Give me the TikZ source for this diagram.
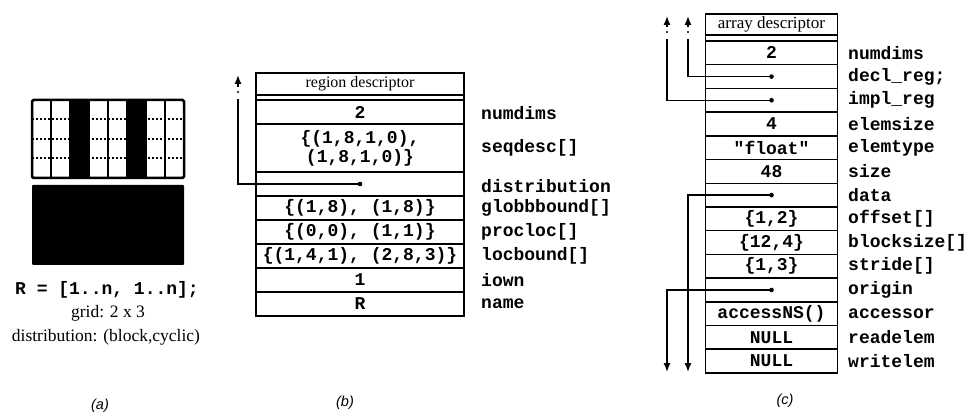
\documentclass[tikz,border=0pt]{standalone}
\usepackage{fontspec}
\setmainfont{Liberation Serif}
\newfontfamily\monofam{Liberation Mono}
\newfontfamily\capfam{Liberation Sans}
\usetikzlibrary{arrows.meta}
\newcommand\mytt{\monofam\bfseries\fontsize{18}{19}\selectfont}
\newcommand\myserif{\rmfamily\fontsize{16}{18}\selectfont}
\newcommand\myserifa{\rmfamily\fontsize{17.5}{19}\selectfont}
\begin{document}
\begin{tikzpicture}[x=1pt,y=-1pt,
 cellb/.style={draw, line width=1.5pt, minimum width=208pt, minimum height=24pt, inner sep=0pt, outer sep=0pt, font=\mytt, align=center},
 cellc/.style={cellb, minimum width=131pt, minimum height=23.71pt},
 hdr/.style={cellb, font=\myserif},
 lab/.style={anchor=west, inner sep=0pt, font=\mytt},
 ptr/.style={line width=1.4pt},
 tip/.style={-{Latex[length=9pt,width=7pt]}},
 capt/.style={font=\capfam\itshape\fontsize{14.5}{17}\selectfont}]
\useasboundingbox (0,0) rectangle (978,414);

% ---------- (a) ----------
\fill (70,100) rectangle (89,178);
\fill (127,100) rectangle (146,178);
\foreach \y in {119.5,139,158.5} \draw[line width=2pt, dotted] (32,\y) -- (184,\y);
\foreach \x in {51,70,89,108,127,146,165} \draw[line width=2.5pt] (\x,100) -- (\x,178);
\draw[line width=2.5pt, rounded corners=1.5pt] (32,100) rectangle (184,178);
\fill[rounded corners=1pt] (32,185) rectangle (184,265);
\node[font=\mytt] (rdecl) at (107,290) {R = [1..n, 1..n];};
\node[font=\myserifa] (gridtxt) at (108,313) {grid: 2 x 3};
\node[font=\myserifa] (disttxt) at (106,337) {distribution: (block,cyclic)};
\node[capt] (capa) at (100,406) {(a)};

% ---------- (b) ----------
\node[hdr, minimum height=22pt] (bh) at (360,84) {region descriptor};
\node[cellb] (b1) at (360,112) {2};
\node[cellb, minimum height=48pt] (b2) at (360,148) {\{(1,8,1,0),\\(1,8,1,0)\}};
\node[cellb] (b3) at (360,184) {};
\node[cellb] (b4) at (360,208) {\{(1,8), (1,8)\}};
\node[cellb] (b5) at (360,232) {\{(0,0), (1,1)\}};
\node[cellb] (b6) at (360,256) {\{(1,4,1), (2,8,3)\}};
\node[cellb] (b7) at (360,280) {1};
\node[cellb] (b8) at (360,304) {R};
\draw[line width=1.5pt] (bh.north west) rectangle (b8.south east);

\node[lab] (lb1) at (481,113) {numdims};
\node[lab] (lb2) at (481,148) {seqdesc[]};
\node[lab] (lb3) at (481,186) {distribution};
\node[lab] (lb4) at (481,208) {globbbound[]};
\node[lab] (lb5) at (481,232) {procloc[]};
\node[lab] (lb6) at (481,256) {locbound[]};
\node[lab] (lb7) at (481,280) {iown};
\node[lab] (lb8) at (481,304) {name};

\coordinate (bup) at (238,99);
\coordinate (bdot) at (238,92);
\coordinate (barS) at (238,87);
\coordinate (barE) at (238,75);
\draw[ptr] (b3.center) -| (bup);
\fill (b3.center) circle (2.3pt);
\fill (bdot) circle (1.2pt);
\draw[ptr, tip] (barS) -- (barE);
\node[capt] (capb) at (345,403) {(b)};

% ---------- (c) ----------
\node[hdr, minimum width=132pt, minimum height=21pt, font=\rmfamily\fontsize{17}{18}\selectfont] (ch) at (771.5,24.5) {array descriptor};
\foreach \i/\t in {1/2, 2/, 3/, 4/4, 5/"float", 6/48, 7/, 8/{\{1,2\}}, 9/{\{12,4\}}, 10/{\{1,3\}}, 11/, 12/accessNS(), 13/NULL, 14/NULL}
  \node[cellc, minimum width=132pt] (c\i) at (771.5, {41+(\i-0.5)*23.71}) {\t};
\draw[line width=1.5pt] (ch.north west) rectangle (c14.south east);

\foreach \i/\t in {1/numdims, 2/decl\_reg;, 3/impl\_reg, 4/elemsize, 5/elemtype, 6/size, 7/data, 8/offset[], 9/blocksize[], 10/stride[], 11/origin, 12/accessor, 13/readelem, 14/writelem}
  \node[lab] (lc\i) at (848, {41+(\i-0.5)*23.71}) {\t};

% up pointers
\coordinate (dA) at (688,39);
\coordinate (dAd) at (688,32);
\coordinate (dAs) at (688,27);
\coordinate (dAe) at (688,16);
\coordinate (iA) at (667,39);
\coordinate (iAd) at (667,32);
\coordinate (iAs) at (667,27);
\coordinate (iAe) at (667,16);
\draw[ptr] (c2.center) -| (dA);
\draw[ptr] (c3.center) -| (iA);
\fill (dAd) circle (1.2pt);
\fill (iAd) circle (1.2pt);
\draw[ptr, tip] (dAs) -- (dAe);
\draw[ptr, tip] (iAs) -- (iAe);
% down pointers
\coordinate (dataE) at (688,372);
\coordinate (origE) at (667,372);
\draw[ptr, tip] (c7.center) -| (dataE);
\draw[ptr, tip] (c11.center) -| (origE);
\foreach \i in {2,3,7,11} \fill (c\i.center) circle (2.3pt);
\node[capt] (capc) at (785,401) {(c)};
\end{tikzpicture}
\end{document}
